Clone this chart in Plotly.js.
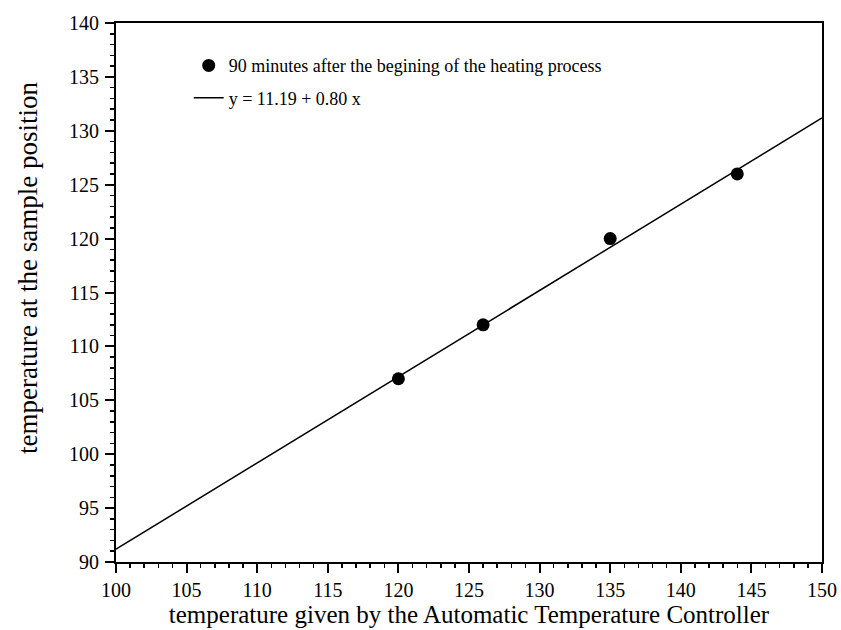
<!DOCTYPE html>
<html>
<head>
<meta charset="utf-8">
<script src="https://cdn.plot.ly/plotly-3.0.1.min.js"></script>
<style>html,body{margin:0;padding:0;background:#fff;}#chart{width:841px;height:630px;}</style>
</head>
<body>
<div id="chart"></div>
<script>
const pointsX = [120, 126, 135, 144];
const pointsY = [107, 112, 120, 126];
const fitX = [100, 150];
const intercept = 11.19;
const slope = 0.80;
const fitY = fitX.map(x => intercept + slope * x);
const xTicks = [100, 105, 110, 115, 120, 125, 130, 135, 140, 145, 150];
const yTicks = [90, 95, 100, 105, 110, 115, 120, 125, 130, 135, 140];
const pointsName = '90 minutes after the begining of the heating process';
const fitName = 'y = 11.19 + 0.80 x';
const xTitle = 'temperature given by the Automatic Temperature Controller';
const yTitle = 'temperature at the sample position';

const font = 'Liberation Serif, Times New Roman, serif';

const traces = [
  {x: pointsX, y: pointsY, mode: 'markers', type: 'scatter', name: pointsName,
   marker: {color: '#000', size: 13}, legendgroup: 'a'},
  {x: fitX, y: fitY, mode: 'lines', type: 'scatter', name: fitName,
   line: {color: '#000', width: 1.5}, legendgroup: 'b'}
];

const axisCommon = {
  showgrid: false, zeroline: false, showline: true, linecolor: '#000', linewidth: 2,
  mirror: true, ticks: 'outside', ticklen: 9, tickwidth: 2, tickcolor: '#000',
  tickfont: {family: font, size: 20, color: '#000'},
  minor: {dtick: 1, ticks: 'outside', ticklen: 4, tickwidth: 1.5, tickcolor: '#000'}
};

const layout = {
  width: 841, height: 630,
  margin: {l: 116, r: 19, t: 23, b: 68},
  paper_bgcolor: '#fff', plot_bgcolor: '#fff',
  showlegend: true,
  legend: {x: 0.103, y: 0.955, xanchor: 'left', yanchor: 'top', bgcolor: 'rgba(0,0,0,0)',
           font: {family: font, size: 18, color: '#000'}, tracegroupgap: 6},
  xaxis: Object.assign({}, axisCommon, {
    range: [100, 150], tickvals: xTicks, ticktext: xTicks.map(String), ticklabelstandoff: 0,
    title: {text: xTitle, font: {family: font, size: 25, color: '#000'}, standoff: 0}
  }),
  yaxis: Object.assign({}, axisCommon, {
    range: [90, 140], tickvals: yTicks, ticktext: yTicks.map(String), ticklabelstandoff: 2
  }),
  annotations: [
    {text: yTitle, xref: 'paper', yref: 'paper', x: -0.125, y: 0.545, xanchor: 'center', yanchor: 'middle',
     textangle: -90, showarrow: false, font: {family: font, size: 27, color: '#000'}}
  ]
};

Plotly.newPlot('chart', traces, layout, {displayModeBar: false, staticPlot: true});
</script>
</body>
</html>
